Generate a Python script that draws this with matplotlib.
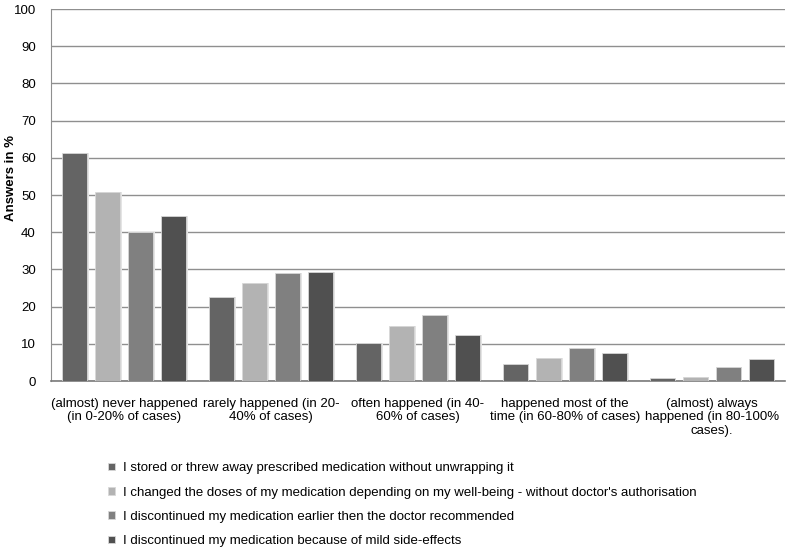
import numpy as np
import matplotlib
matplotlib.use('Agg')
import matplotlib.pyplot as plt

plt.rcParams['font.family'] = ['Liberation Sans', 'DejaVu Sans']

# Data
categories = [
    "(almost) never happened\n(in 0-20% of cases)",
    "rarely happened (in 20-\n40% of cases)",
    "often happened (in 40-\n60% of cases)",
    "happened most of the\ntime (in 60-80% of cases)",
    "(almost) always\nhappened (in 80-100%\ncases).",
]
series_labels = [
    "I stored or threw away prescribed medication without unwrapping it",
    "I changed the doses of my medication depending on my well-being - without doctor's authorisation",
    "I discontinued my medication earlier then the doctor recommended",
    "I discontinued my medication because of mild side-effects",
]
stored = [61.2, 22.5, 10.1, 4.7, 0.8]
changed_doses = [50.9, 26.3, 14.8, 6.2, 1.2]
discontinued_early = [40.1, 28.9, 17.8, 8.8, 3.8]
side_effects = [44.4, 29.2, 12.4, 7.6, 5.8]

series = [stored, changed_doses, discontinued_early, side_effects]
colors = ['#646464', '#b3b3b3', '#808080', '#505050']

fig = plt.figure(figsize=(7.86, 5.49), dpi=100)
ax = fig.add_axes([51 / 786, 1 - 381 / 549, 734 / 786, 372 / 549])

x = np.arange(len(categories))
width = 0.17
step = 0.225
offsets = (np.arange(4) - 1.5) * step

handles = []
for i, (vals, col) in enumerate(zip(series, colors)):
    # soft shadow behind each bar
    ax.bar(x + offsets[i] + 0.012, vals, width, color='#e4e4e4', zorder=2)
    b = ax.bar(x + offsets[i], vals, width, color=col, edgecolor='#d8d8d8',
               linewidth=0.6, zorder=3, label=series_labels[i])
    handles.append(b)

ax.set_xlim(-0.5, len(categories) - 0.5)
ax.set_ylim(0, 100)
ax.set_yticks(np.arange(0, 101, 10))
ax.yaxis.grid(True, color='#8f8f8f', linewidth=1.0, zorder=0)
ax.set_axisbelow(True)

for s in ['top', 'right']:
    ax.spines[s].set_visible(False)
ax.spines['left'].set_color('#8f8f8f')
ax.spines['bottom'].set_color('#7a7a7a')
ax.spines['bottom'].set_linewidth(1.2)

fs = 9.5
ax.set_xticks(x)
ax.set_xticklabels(categories, fontsize=fs, linespacing=1.2, va='top')
ax.tick_params(axis='x', length=0, pad=12)
ax.tick_params(axis='y', length=0, pad=11, labelsize=fs)

ax.set_ylabel("Answers in %", fontsize=fs, fontweight='bold', va='center')
ax.yaxis.set_label_coords(-(51 - 11) / 734, (381 - 178) / 372)

fig.legend(handles=handles, labels=series_labels, loc='upper left',
           bbox_to_anchor=(103 / 786, 1 - 457 / 549), frameon=False,
           fontsize=fs, handlelength=0.5, handleheight=0.5,
           handletextpad=0.6, labelspacing=0.93, borderaxespad=0)

plt.savefig('out.png', dpi=100, facecolor='white')
plt.close()
